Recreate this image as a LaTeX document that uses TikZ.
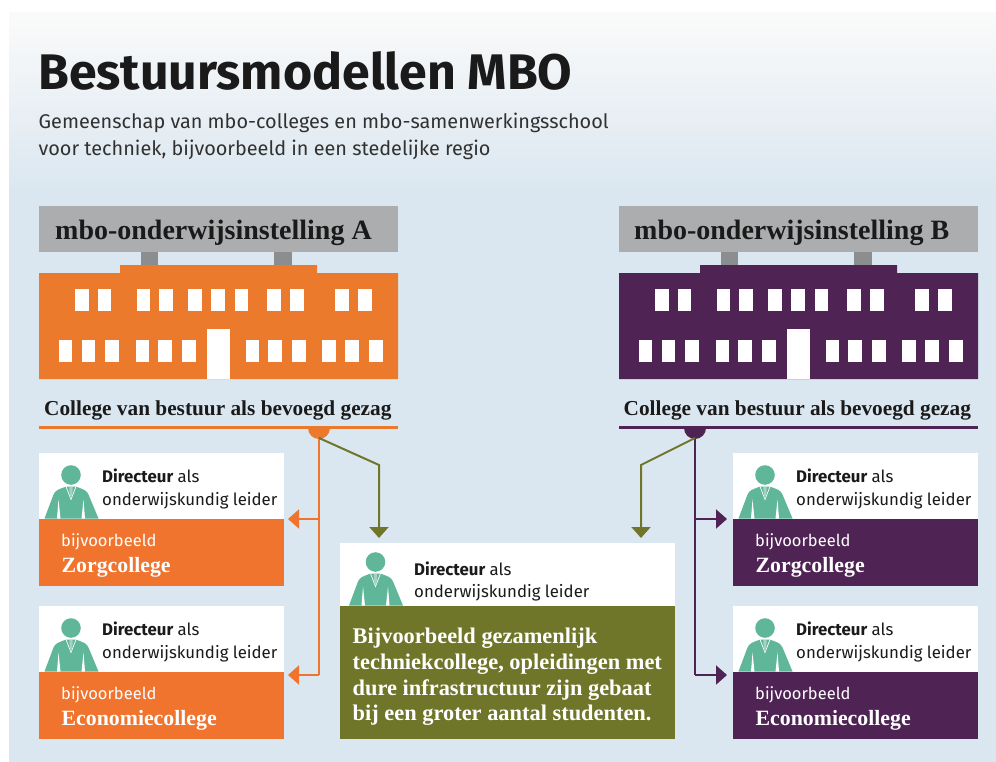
\documentclass[tikz,border=0pt]{standalone}
\usepackage{fontspec}
\setmainfont{Fira Sans}
\newfontfamily\serifx{Liberation Serif}
\usetikzlibrary{arrows.meta,calc}
\definecolor{panel}{HTML}{DBE7F0}
\definecolor{paneltop}{HTML}{FAFAFA}
\definecolor{signgrey}{HTML}{ABADAE}
\definecolor{postgrey}{HTML}{8B8D8F}
\definecolor{orangeB}{HTML}{EC7A2C}
\definecolor{orangeC}{HTML}{F0742D}
\definecolor{purpleC}{HTML}{4F2455}
\definecolor{oliveC}{HTML}{6F7529}
\definecolor{personC}{HTML}{5FB699}
\definecolor{tieC}{HTML}{A4D3C2}
\definecolor{inkC}{HTML}{1A1A1A}
\tikzset{
  box/.style={inner sep=0pt,outer sep=0pt,minimum width=#1,anchor=north west},
  sign/.style={fill=signgrey,inner sep=0pt,outer sep=0pt,anchor=north west,minimum width=359pt,minimum height=46pt},
  signtext/.style={anchor=base west,inner sep=0pt,font=\serifx\bfseries\fontsize{28}{28}\selectfont,text=inkC},
  boardtext/.style={anchor=base west,inner sep=0pt,font=\serifx\bfseries\fontsize{21.3}{21.3}\selectfont,text=inkC},
  dirtext/.style={anchor=base west,inner sep=0pt,font=\fontsize{16.8}{16.8}\selectfont,text=inkC},
  smalltext/.style={anchor=base west,inner sep=0pt,font=\fontsize{16.5}{16.5}\selectfont,text=white},
  collegetext/.style={anchor=base west,inner sep=0pt,font=\serifx\bfseries\fontsize{21.8}{21.8}\selectfont,text=white},
  bodytext/.style={anchor=base west,inner sep=0pt,font=\serifx\bfseries\fontsize{22.4}{22.4}\selectfont,text=white},
  subtext/.style={anchor=base west,inner sep=0pt,font=\fontsize{19.85}{19.85}\selectfont,text=inkC!90},
  conn/.style={line width=2pt,-{Triangle[length=11pt,width=19pt]},#1},
  connplain/.style={line width=2pt,#1},
}
% building: #1 x offset, #2 colour
\newcommand{\building}[2]{%
  \begin{scope}[shift={(#1,0)}]
    \fill[postgrey] (141,250) rectangle (158,266);
    \fill[postgrey] (274,250) rectangle (292,266);
    \fill[#2] (39,273) -- (120,273) -- (120,265) -- (317,265) -- (317,273) -- (398,273) -- (398,379) -- (39,379) -- cycle;
    \foreach \wx in {75,97.5,136.5,159,188,211,234.5,267,290,335,358}
      \fill[white] (\wx,289) rectangle ++(13.5,22);
    \foreach \wx in {58.5,81.5,105,135.5,158,182,245.5,268,292,322,345,369}
      \fill[white] (\wx,340) rectangle ++(13.5,22);
    \fill[white] (207,329) rectangle (230,379);
  \end{scope}}
% person: #1 centre x, #2 bottom y
\newcommand{\person}[2]{%
  \begin{scope}[shift={(#1,#2)}]
    \fill[personC] (-0.5,-43.5) circle (9.8);
    \fill[personC] (-27,0) -- (-18,-24) .. controls (-16,-28) and (-14,-29) .. (-5,-32)
       -- (4,-32) .. controls (13,-29) and (15,-28) .. (17,-24) -- (27,0) -- cycle;
    \fill[white] (-13,-19) -- (-11,0) -- (-14.5,0) -- cycle;
    \fill[white] (12,-19) -- (10,0) -- (13.5,0) -- cycle;
    \draw[white,line width=0.7pt] (-5.5,-32) -- (-0.5,-19) -- (4.5,-32);
    \fill[tieC] (-2.2,-31.5) -- (1.2,-31.5) -- (0.9,-25) -- (-0.5,-19.5) -- (-1.9,-25) -- cycle;
  \end{scope}}
% card: #1 name, #2 x, #3 y top, #4 colour, #5 college
\newcommand{\card}[5]{%
  \node[box=245pt,fill=white,minimum height=66pt] (#1head) at (#2,#3) {};
  \node[box=245pt,fill=#4,minimum height=67pt] (#1foot) at (#1head.south west) {};
  \person{#2+32.5}{#3+65.5}
  \node[dirtext] (#1dirA) at (#2+63,#3+29) {\textbf{Directeur} als};
  \node[dirtext] (#1dirB) at (#2+63,#3+52) {onderwijskundig leider};
  \node[smalltext] (#1ex) at (#2+22,#3+93) {bijvoorbeeld};
  \node[collegetext] (#1name) at (#2+22.5,#3+119) {#5};
}
\begin{document}
\begin{tikzpicture}[x=1pt,y=-1pt]
\useasboundingbox (0,0) rectangle (996,762);
\fill[white] (0,0) rectangle (996,762);
\fill[top color=paneltop,bottom color=panel] (9,13) rectangle (996,190);
\fill[panel] (9,189.5) rectangle (996,762);

\node[anchor=base west,inner sep=0pt,font=\bfseries\fontsize{50}{50}\selectfont,text=inkC] (title) at (38,90) {Bestuursmodellen MBO};
\node[subtext] (subA) at (38.5,129) {Gemeenschap van mbo-colleges en mbo-samenwerkingsschool};
\node[subtext] (subB) at (38.5,156) {voor techniek, bijvoorbeeld in een stedelijke regio};

% buildings
\building{0}{orangeB}
\building{580}{purpleC}
\node[sign] (signA) at (39,206) {};
\node[sign] (signB) at (619,206) {};
\node[signtext] (signAt) at (55,240) {mbo-onderwijsinstelling A};
\node[signtext] (signBt) at (634,240) {mbo-onderwijsinstelling B};
\node[boardtext] (boardA) at (44,415.5) {College van bestuur als bevoegd gezag};
\node[boardtext] (boardB) at (623.5,415.5) {College van bestuur als bevoegd gezag};
\fill[orangeB] (39,425.5) rectangle (398,429);
\fill[purpleC] (619,425.5) rectangle (978,429);
\fill[orangeB] (308,428) arc[start angle=180,end angle=0,radius=11] -- cycle;
\fill[purpleC] (684,428) arc[start angle=180,end angle=0,radius=11] -- cycle;
\coordinate (hubA) at (319,438);
\coordinate (hubB) at (695,438);

% cards
\card{aa}{39}{453}{orangeC}{Zorgcollege}
\card{ab}{39}{606}{orangeC}{Economiecollege}
\card{ba}{733}{453}{purpleC}{Zorgcollege}
\card{bb}{733}{606}{purpleC}{Economiecollege}

% centre card
\node[box=335pt,fill=white,minimum height=63pt] (midhead) at (340,543) {};
\node[box=335pt,fill=oliveC,minimum height=133pt] (midfoot) at (midhead.south west) {};
\person{376}{605.5}
\node[dirtext] (middirA) at (414,575) {\textbf{Directeur} als};
\node[dirtext] (middirB) at (414,597) {onderwijskundig leider};
\foreach \ln/\ty/\tx in {a/643/Bijvoorbeeld gezamenlijk,b/669/{techniekcollege, opleidingen met},c/695/dure infrastructuur zijn gebaat,d/720/bij een groter aantal studenten.}
  \node[bodytext] (midt\ln) at (352.5,\ty) {\tx};

% connectors
\draw[connplain=orangeC] (hubA) -- (319,675);
\draw[conn=orangeC] (319,519) -- ([xshift=4pt]aafoot.north east);
\draw[conn=orangeC] (319,675) -- ([xshift=4pt,yshift=-3pt]abfoot.north east);
\draw[connplain=purpleC] (hubB) -- (695,675);
\draw[conn=purpleC] (695,519) -- ([xshift=-6pt]bafoot.north west);
\draw[conn=purpleC] (695,675) -- ([xshift=-6pt,yshift=-3pt]bbfoot.north west);
\draw[conn=oliveC] (hubA) -- (379,465) -- (379,538);
\draw[conn=oliveC] (hubB) -- (641,465) -- (641,538);
\end{tikzpicture}
\end{document}
